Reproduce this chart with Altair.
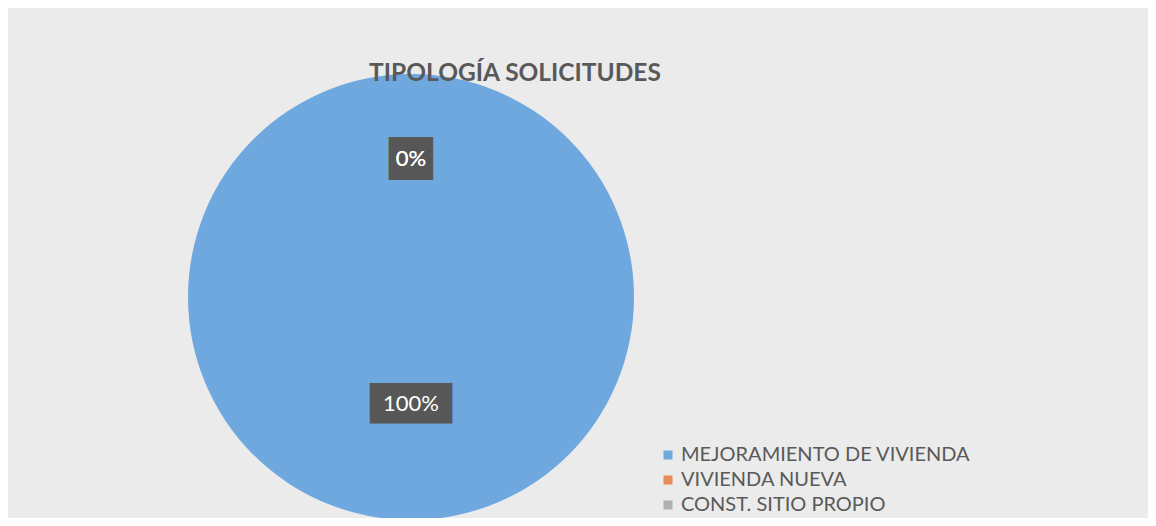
import altair as alt
import pandas as pd

categories = ["MEJORAMIENTO DE VIVIENDA", "VIVIENDA NUEVA", "CONST. SITIO PROPIO"]
values = [100, 0, 0]
colors = ["#6fa7df", "#ec8a55", "#b0b0b0"]
title_text = "TIPOLOGÍA SOLICITUDES"

df = pd.DataFrame({"categoria": categories, "value": values, "idx": list(range(len(categories)))})

CX, CY = 403, 289
FONT = "Lato"

base = alt.Chart(df).transform_joinaggregate(total="sum(value)").transform_calculate(
    pct="format(datum.value / datum.total, '.0%')"
)

theta = alt.Theta("value:Q", stack=True)
order = alt.Order("idx:Q")

pie = base.mark_arc(radius=223, stroke=None).encode(
    theta=theta,
    order=order,
    x=alt.value(CX),
    y=alt.value(CY),
    color=alt.Color(
        "categoria:N",
        scale=alt.Scale(domain=categories, range=colors),
        sort=categories,
        legend=alt.Legend(
            title=None,
            orient="none",
            legendX=650,
            legendY=437,
            symbolType="square",
            symbolSize=80,
            symbolStrokeWidth=0,
            labelFontSize=20,
            labelFont=FONT,
            labelColor="#595959",
            labelLimit=500,
            rowPadding=5,
            labelOffset=3,
            padding=0,
        ),
    ),
)


def label_layer(filter_expr, r, box, box_size):
    b = base.transform_filter(filter_expr)
    boxes = b.mark_text(
        font="DejaVu Sans Mono", fontSize=box_size, color="#575757", baseline="middle", align="center", dy=1
    ).encode(theta=theta, order=order, x=alt.value(CX), y=alt.value(CY), radius=alt.value(r), text=alt.value(box))
    txt = b.mark_text(
        font=FONT, fontSize=22, color="white", baseline="middle", align="center"
    ).encode(theta=theta, order=order, x=alt.value(CX), y=alt.value(CY), radius=alt.value(r), text="pct:N")
    return boxes + txt


zero_labels = label_layer("datum.value == 0", 138, "██", 36)
full_labels = label_layer("datum.value > 0", 107, "████", 34)

title = alt.Chart(pd.DataFrame({"t": [title_text]})).mark_text(
    font=FONT, fontSize=24.5, fontWeight="bold", color="#595959", align="center", baseline="middle"
).encode(text="t:N", x=alt.value(507), y=alt.value(66))

chart = (
    alt.layer(pie, zero_labels, full_labels, title)
    .properties(width=1140, height=510, autosize=alt.AutoSizeParams(type="none"), padding=0, background="#ebebeb")
    .configure_view(stroke=None)
)

chart.save("out.html", embed_options={"renderer": "svg", "actions": False})
